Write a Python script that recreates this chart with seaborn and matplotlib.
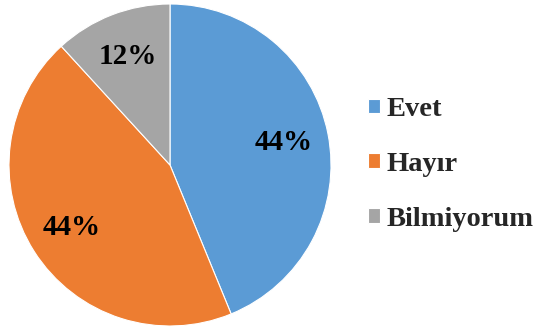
import matplotlib
matplotlib.use("Agg")
import matplotlib.pyplot as plt
import seaborn as sns

labels = ["Evet", "Hayır", "Bilmiyorum"]
values = [43.8, 44.4, 11.8]
colors = ["#5B9BD5", "#ED7D31", "#A5A5A5"]

sns.set_theme(style="white")
plt.rcParams['font.family'] = ['Liberation Serif', 'DejaVu Serif']

fig = plt.figure(figsize=(5.34, 3.31), dpi=100)
ax = fig.add_axes([9/534, 5/331, 322/534, 322/331])

wedges, texts, autotexts = ax.pie(
    values, colors=colors, startangle=90, counterclock=False,
    autopct='%1.0f%%', pctdistance=0.72,
    wedgeprops=dict(edgecolor='white', linewidth=0.8),
    textprops=dict(fontsize=21, fontweight='bold', color='black'))
ax.set_xlim(-1, 1)
ax.set_ylim(-1, 1)
ax.set_aspect('equal')

fig.legend(wedges, labels, loc='center left', bbox_to_anchor=(368/534, 0.503),
           frameon=False, prop=dict(size=20.5, weight='bold'),
           handlelength=0.42, handleheight=0.42, handletextpad=0.22,
           labelspacing=1.05, borderpad=0, borderaxespad=0)

fig.savefig("out.png", dpi=100)
